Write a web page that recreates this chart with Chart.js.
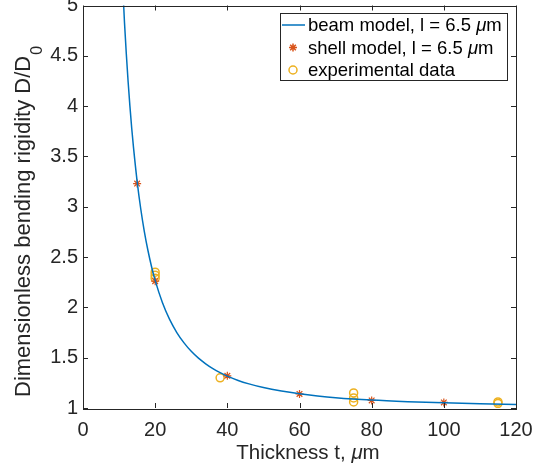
<!DOCTYPE html>
<html>
<head>
<meta charset="utf-8">
<script src="https://cdn.jsdelivr.net/npm/chart.js@4.4.1/dist/chart.umd.min.js"></script>
<style>
  html, body { margin: 0; padding: 0; background: #fff; }
  #wrap { width: 533px; height: 474px; }
</style>
</head>
<body>
<div id="wrap"><canvas id="myChart" width="533" height="474"></canvas></div>
<script>
// values
const beamT = [10.8, 11.5, 12, 12.5, 13, 13.5, 14, 15, 16, 17, 18, 19, 20, 22, 24, 26, 28, 30, 32, 34, 36, 38, 40, 43, 46, 50, 55, 60, 65, 70, 80, 90, 100, 110, 120];
const beamD = [5.35, 4.83, 4.52, 4.245, 4.0, 3.78, 3.587, 3.253, 2.98, 2.754, 2.565, 2.404, 2.268, 2.048, 1.88, 1.75, 1.647, 1.563, 1.495, 1.439, 1.391, 1.351, 1.317, 1.274, 1.24, 1.203, 1.168, 1.141, 1.12, 1.103, 1.079, 1.063, 1.051, 1.042, 1.035];

const shellT = [15, 20, 40, 60, 80, 100];
const shellD = [3.23, 2.26, 1.32, 1.14, 1.075, 1.055];

const expT = [20, 20, 20, 38, 75, 75, 75, 115, 115];
const expD = [2.35, 2.32, 2.29, 1.3, 1.15, 1.1, 1.06, 1.06, 1.045];

const xTicks = [0, 20, 40, 60, 80, 100, 120];
const yTicks = [1, 1.5, 2, 2.5, 3, 3.5, 4, 4.5, 5];

// label parts: [before mu, after mu]; null = no mu
const seriesLabels = [['beam model, l = 6.5 ', 'm'], ['shell model, l = 6.5 ', 'm'], ['experimental data', null]];

const axisColor = '#262626';
const fontFamily = '"Liberation Sans", Arial, Helvetica, sans-serif';

const toPoints = (xs, ys) => xs.map((x, i) => ({ x: x, y: ys[i] }));

// draw "a" + italic mu + "b" starting at x
function muText(ctx, a, b, x, y, size) {
  ctx.font = size + 'px ' + fontFamily;
  ctx.fillText(a, x, y);
  if (b === null) return ctx.measureText(a).width;
  let w = ctx.measureText(a).width;
  ctx.font = 'italic ' + size + 'px ' + fontFamily;
  ctx.fillText('\u03bc', x + w, y);
  w += ctx.measureText('\u03bc').width;
  ctx.font = size + 'px ' + fontFamily;
  ctx.fillText(b, x + w, y);
  return w + ctx.measureText(b).width;
}

function muWidth(ctx, a, b, size) {
  ctx.font = size + 'px ' + fontFamily;
  let w = ctx.measureText(a).width + ctx.measureText(b).width;
  ctx.font = 'italic ' + size + 'px ' + fontFamily;
  return w + ctx.measureText('\u03bc').width;
}

// box round the axes, ticks pointing inwards, titles and legend
const matlabAxes = {
  id: 'matlabAxes',
  afterDraw(chart) {
    const ctx = chart.ctx;
    const a = chart.chartArea;
    const xs = chart.scales.x;
    const ys = chart.scales.y;
    const tl = 5;
    ctx.save();
    ctx.strokeStyle = axisColor;
    ctx.lineWidth = 1;
    ctx.beginPath();
    xTicks.forEach((v) => {
      const px = Math.round(xs.getPixelForValue(v)) + 0.5;
      ctx.moveTo(px, a.bottom); ctx.lineTo(px, a.bottom - tl);
      ctx.moveTo(px, a.top); ctx.lineTo(px, a.top + tl);
    });
    yTicks.forEach((v) => {
      const py = Math.round(ys.getPixelForValue(v)) + 0.5;
      ctx.moveTo(a.left, py); ctx.lineTo(a.left + tl, py);
      ctx.moveTo(a.right, py); ctx.lineTo(a.right - tl, py);
    });
    ctx.stroke();
    ctx.strokeRect(Math.round(a.left) + 0.5, Math.round(a.top) + 0.5,
      Math.round(a.right - a.left), Math.round(a.bottom - a.top));

    // y title with subscript
    ctx.fillStyle = axisColor;
    ctx.save();
    ctx.translate(29.5, 0);
    ctx.rotate(-Math.PI / 2);
    ctx.textBaseline = 'alphabetic';
    ctx.textAlign = 'left';
    const main = 'Dimensionless bending rigidity D/D';
    ctx.font = '22px ' + fontFamily;
    const w1 = ctx.measureText(main).width;
    ctx.fillText(main, -397, 0);
    ctx.font = '16px ' + fontFamily;
    ctx.fillText('0', -397 + w1 + 1, 12.5);
    ctx.restore();

    // x title with italic mu
    ctx.textBaseline = 'alphabetic';
    ctx.textAlign = 'left';
    const xw = muWidth(ctx, 'Thickness t, ', 'm', 20.5);
    muText(ctx, 'Thickness t, ', 'm', 308 - xw / 2, 459, 20.5);

    // legend box
    const bx = 280.5, by = 13.5, bw = 227, bh = 67;
    ctx.fillStyle = '#fff';
    ctx.fillRect(bx, by, bw, bh);
    ctx.strokeStyle = axisColor;
    ctx.lineWidth = 1;
    ctx.strokeRect(bx, by, bw, bh);
    const rows = [25, 47.5, 70];
    const ds = chart.data.datasets;
    ctx.strokeStyle = ds[0].borderColor;
    ctx.lineWidth = ds[0].borderWidth;
    ctx.beginPath();
    ctx.moveTo(282, rows[0]); ctx.lineTo(305, rows[0]);
    ctx.stroke();
    [1, 2].forEach((k) => {
      ctx.strokeStyle = ds[k].borderColor;
      ctx.fillStyle = ds[k].backgroundColor;
      Chart.helpers.drawPoint(ctx, {
        pointStyle: ds[k].pointStyle,
        radius: ds[k].pointRadius,
        borderWidth: ds[k].borderWidth,
        rotation: 0
      }, 293, rows[k]);
    });
    ctx.fillStyle = '#000';
    ctx.textBaseline = 'middle';
    seriesLabels.forEach((s, i) => muText(ctx, s[0], s[1], 308, rows[i] + 1, 18.5));
    ctx.restore();
  }
};

const ctx = document.getElementById('myChart').getContext('2d');
new Chart(ctx, {
  type: 'scatter',
  data: {
    datasets: [
      {
        label: 'beam model',
        data: toPoints(beamT, beamD),
        showLine: true,
        borderColor: '#0072BD',
        borderWidth: 1.5,
        pointRadius: 0,
        cubicInterpolationMode: 'monotone',
        fill: false
      },
      {
        label: 'shell model',
        data: toPoints(shellT, shellD),
        showLine: false,
        pointStyle: 'star',
        pointRadius: 4,
        borderWidth: 1.2,
        borderColor: '#D95319',
        backgroundColor: '#D95319'
      },
      {
        label: 'experimental data',
        data: toPoints(expT, expD),
        showLine: false,
        pointStyle: 'circle',
        pointRadius: 4,
        borderWidth: 1.5,
        borderColor: '#EDB120',
        backgroundColor: 'rgba(0,0,0,0)'
      }
    ]
  },
  options: {
    responsive: false,
    animation: false,
    devicePixelRatio: 1,
    layout: { padding: { top: 5, right: 17, left: 0, bottom: 0 } },
    plugins: {
      legend: { display: false },
      tooltip: { enabled: false }
    },
    scales: {
      x: {
        type: 'linear',
        min: 0,
        max: 120,
        afterBuildTicks: (s) => { s.ticks = xTicks.map((v) => ({ value: v })); },
        afterFit: (s) => { s.height = 66; s.paddingLeft = 0; s.paddingRight = 0; },
        grid: { display: false, drawTicks: false },
        border: { display: false },
        ticks: {
          padding: 10,
          color: axisColor,
          maxRotation: 0,
          font: { family: fontFamily, size: 20 },
          callback: (v) => String(v)
        }
      },
      y: {
        type: 'linear',
        min: 1,
        max: 5,
        afterBuildTicks: (s) => { s.ticks = yTicks.map((v) => ({ value: v })); },
        afterFit: (s) => { s.width = 83; s.paddingTop = 0; s.paddingBottom = 0; },
        grid: { display: false, drawTicks: false },
        border: { display: false },
        ticks: {
          padding: 5,
          color: axisColor,
          font: { family: fontFamily, size: 20 },
          callback: (v) => String(v)
        }
      }
    }
  },
  plugins: [matlabAxes]
});
</script>
</body>
</html>
